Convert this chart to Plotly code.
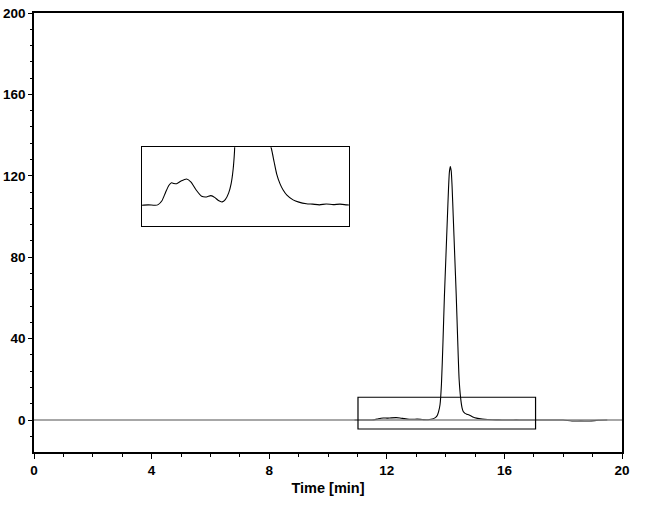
import plotly.graph_objects as go

# Chromatogram data (time in min, signal)
time = [10.90, 11.00, 11.20, 11.40, 11.49, 11.60, 11.70, 11.80, 11.88, 11.95,
        12.03, 12.15, 12.32, 12.45, 12.60, 12.76, 12.90, 13.03, 13.15, 13.25,
        13.36, 13.45, 13.55, 13.62, 13.68, 13.72, 13.76, 13.81, 13.86, 13.91,
        13.96, 14.01, 14.06, 14.10, 14.13, 14.16, 14.19, 14.22, 14.26, 14.31,
        14.36, 14.41, 14.46, 14.51, 14.56, 14.60, 14.66, 14.72, 14.80, 14.88,
        14.95, 15.05, 15.14, 15.25, 15.43, 15.60, 15.82, 16.00, 16.20, 16.40,
        16.60, 16.80, 17.00, 17.20, 17.60, 18.00, 18.30, 18.60, 18.90, 19.20,
        19.50]
signal = [0.00, 0.00, 0.02, 0.00, 0.03, 0.20, 0.55, 0.88, 1.00, 0.97,
          0.96, 1.07, 1.17, 1.03, 0.68, 0.40, 0.37, 0.43, 0.34, 0.21,
          0.15, 0.25, 0.55, 0.95, 1.60, 2.40, 4.00, 7.50, 18.0, 38.0,
          61.0, 80.0, 99.0, 114.0, 122.0, 124.6, 122.5, 115.0, 100.0, 81.0,
          62.0, 40.0, 20.0, 11.0, 6.0, 4.2, 3.3, 2.9, 2.5, 1.9,
          1.4, 0.95, 0.68, 0.45, 0.24, 0.14, 0.07, 0.05, 0.02, 0.06,
          0.03, 0.05, 0.02, 0.00, 0.00, 0.00, -0.5, -0.4, -0.5, -0.1,
          0.00]

x_ticks = [0, 4, 8, 12, 16, 20]
y_ticks = [0, 40, 80, 120, 160, 200]
x_range = [0, 20]
y_range = [-15.7, 200]

# zoom window (main plot rectangle) and inset axis ranges
zoom_x = [11.02, 17.06]
zoom_y = [-4.4, 11.2]
inset_y = [-0.92, 2.58]

FONT = "Liberation Sans, Arial, sans-serif"

fig = go.Figure()
fig.add_trace(go.Scatter(x=time, y=signal, mode="lines",
                         line=dict(color="black", width=1.1, shape="spline", smoothing=0.6),
                         xaxis="x", yaxis="y", showlegend=False, hoverinfo="skip"))
fig.add_trace(go.Scatter(x=time, y=signal, mode="lines",
                         line=dict(color="black", width=1.1, shape="spline", smoothing=0.6),
                         xaxis="x2", yaxis="y2", showlegend=False, hoverinfo="skip"))

# zero reference line
fig.add_shape(type="line", xref="x domain", yref="y", x0=0, x1=1, y0=0, y1=0,
              line=dict(color="#8a8a8a", width=1.5), layer="above")
# zoom rectangle
fig.add_shape(type="rect", xref="x", yref="y", x0=zoom_x[0], x1=zoom_x[1],
              y0=zoom_y[0], y1=zoom_y[1], line=dict(color="black", width=1.2),
              fillcolor="rgba(0,0,0,0)", layer="above")

tickfont = dict(family=FONT, size=13.5, color="black")

fig.update_layout(
    width=648, height=506,
    margin=dict(l=34, r=26, t=13, b=54),
    paper_bgcolor="white", plot_bgcolor="white",
    xaxis=dict(range=x_range, tickvals=x_ticks, ticktext=[f"<b>{v}</b>" for v in x_ticks],
               ticks="outside", ticklen=5, tickwidth=1,
               tickcolor="black", showline=True, linecolor="black", linewidth=1.5,
               mirror=True, showgrid=False, zeroline=False, tickfont=tickfont, automargin=False,
               minor=dict(dtick=1, ticks="outside", ticklen=3, tickcolor="black", showgrid=False),
               title=dict(text="<b>Time [min]</b>", font=dict(family=FONT, size=14.5, color="black"),
                          standoff=6),
               domain=[0, 1]),
    yaxis=dict(range=y_range, tickvals=y_ticks, ticktext=[f"<b>{v}</b>" for v in y_ticks],
               ticks="outside", ticklen=4, tickwidth=1,
               tickcolor="black", showline=True, linecolor="black", linewidth=1.5,
               mirror=True, showgrid=False, zeroline=False, tickfont=tickfont, automargin=False,
               minor=dict(dtick=8, tick0=0, ticks="outside", ticklen=2, tickcolor="black", showgrid=False),
               domain=[0, 1]),
    xaxis2=dict(range=zoom_x, domain=[0.1838, 0.5355], anchor="y2",
                showline=True, mirror=True, linecolor="black", linewidth=1.2,
                showticklabels=False, ticks="", showgrid=False, zeroline=False),
    yaxis2=dict(range=inset_y, domain=[0.5148, 0.6943], anchor="x2",
                showline=True, mirror=True, linecolor="black", linewidth=1.2,
                showticklabels=False, ticks="", showgrid=False, zeroline=False),
)

fig.write_html("out.html")
